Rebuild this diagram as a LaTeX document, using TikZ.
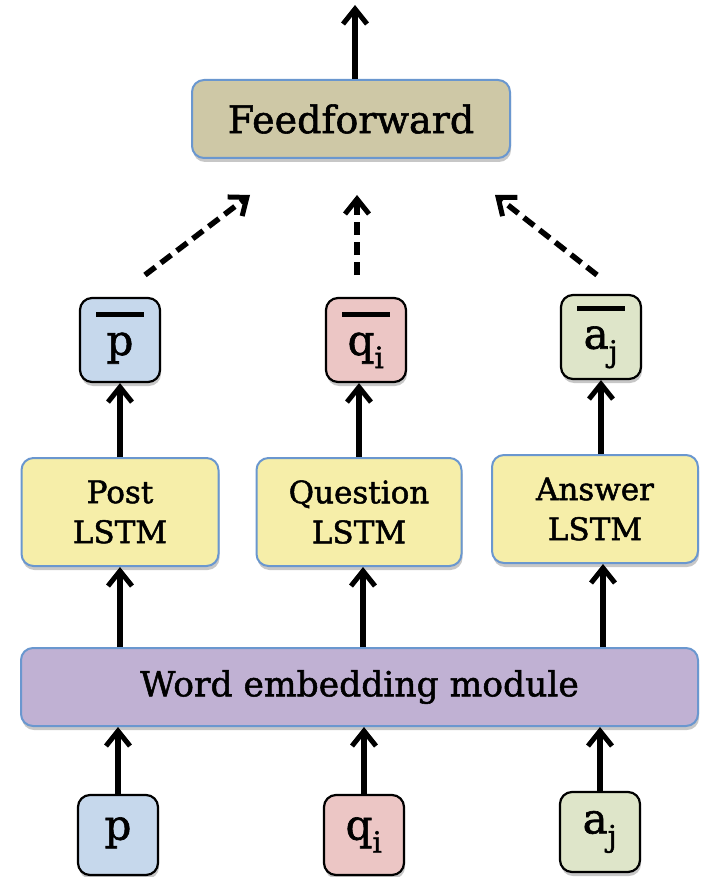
\documentclass[tikz,border=0pt]{standalone}
\usepackage{fontspec}
\setmainfont{DejaVu Serif}[FakeBold=1.5,BoldFont={DejaVu Serif}]
\usetikzlibrary{arrows.meta,shadows,calc}
\definecolor{ffFill}{HTML}{CEC8A6}
\definecolor{lstmFill}{HTML}{F6EEA9}
\definecolor{embFill}{HTML}{C0B1D3}
\definecolor{bord}{HTML}{6A97CF}
\definecolor{pFill}{HTML}{C6D8EC}
\definecolor{qFill}{HTML}{ECC6C5}
\definecolor{aFill}{HTML}{DEE5C9}
\tikzset{
  bigbox/.style={draw=bord, line width=2pt, rounded corners=12pt, inner sep=0pt,
    drop shadow={shadow xshift=1pt, shadow yshift=-4pt, opacity=0.22, fill=black}, align=center},
  smallbox/.style={draw=black, line width=2.2pt, rounded corners=12pt, inner sep=0pt,
    minimum width=80pt, minimum height=84pt,
    drop shadow={shadow xshift=1pt, shadow yshift=-4pt, opacity=0.22, fill=black}, align=center,
    font=\fontsize{42}{44}\selectfont},
  arr/.style={line width=5.5pt, -{Straight Barb[length=15pt,width=24pt,line width=5pt]}},
  darr/.style={arr, dash pattern=on 13pt off 7pt},
}
\newcommand{\barline}{\rule{48pt}{5pt}}
\begin{document}
\begin{tikzpicture}[x=1pt,y=-1pt]
\useasboundingbox (0,0) rectangle (704,877);
% top
\node[bigbox, fill=ffFill, minimum width=318pt, minimum height=78pt,
  font=\fontsize{38}{40}\selectfont] (ff) at (351,119) {Feedforward};
\coordinate (top) at (355,5);
\draw[arr] (ff.north -| top) -- (top);
% dashed
\coordinate (d1s) at (145,275); \coordinate (d1e) at (250,195);
\coordinate (d2s) at (357,275); \coordinate (d2e) at (357,195);
\coordinate (d3s) at (597,275); \coordinate (d3e) at (495,195);
\draw[darr] (d1s) -- (d1e);
\draw[darr] (d2s) -- (d2e);
\draw[darr] (d3s) -- (d3e);
% pooled
\node[smallbox, fill=pFill] (pbar) at (120,340) {\barline\\[-6pt]p\vphantom{q\textsubscript{i}}};
\node[smallbox, fill=qFill] (qbar) at (366,340) {\barline\\[-6pt]q\textsubscript{i}};
\node[smallbox, fill=aFill] (abar) at (601,337) {\barline\\[-6pt]a\textsubscript{j}};
% LSTMs
\node[bigbox, fill=lstmFill, minimum width=197pt, minimum height=108pt,
  font=\fontsize{31}{40}\selectfont] (post) at (120,512) {Post\\LSTM};
\node[bigbox, fill=lstmFill, minimum width=205pt, minimum height=108pt,
  font=\fontsize{31}{40}\selectfont] (ques) at (359,512) {Question\\LSTM};
\node[bigbox, fill=lstmFill, minimum width=206pt, minimum height=108pt,
  font=\fontsize{31}{40}\selectfont] (ans) at (595,509) {Answer\\LSTM};
\draw[arr] (post.north) -- (post.north |- pbar.south);
\draw[arr] (ques.north) -- (ques.north |- qbar.south);
\draw[arr] (abar.south |- ans.north) -- (abar.south);
% embedding
\node[bigbox, fill=embFill, minimum width=677pt, minimum height=78pt,
  font=\fontsize{34.5}{36}\selectfont] (emb) at (359.5,687) {Word embedding module};
\draw[arr] (emb.north -| post) -- (post.south);
\draw[arr] (emb.north -| ques) ++(4,0) coordinate (qe) -- (qe |- ques.south);
\draw[arr] (emb.north -| abar) ++(2,0) coordinate (ae) -- (ae |- ans.south);
% inputs
\node[smallbox, fill=pFill, minimum height=80pt] (p) at (118,835) {p\vphantom{q\textsubscript{i}}};
\node[smallbox, fill=qFill, minimum height=80pt] (q) at (364,835) {q\textsubscript{i}};
\node[smallbox, fill=aFill, minimum height=80pt] (a) at (600,832) {a\textsubscript{j}};
\draw[arr] (p.north) -- (p.north |- emb.south);
\draw[arr] (q.north) -- (q.north |- emb.south);
\draw[arr] (a.north) -- (a.north |- emb.south);
\end{tikzpicture}
\end{document}
